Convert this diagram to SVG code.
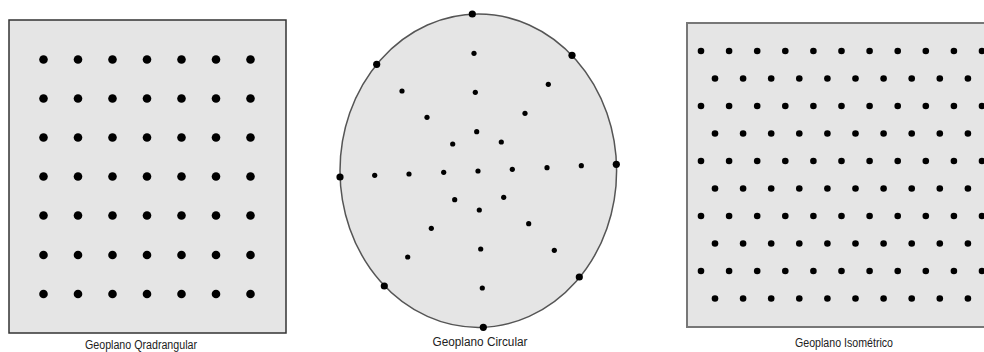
<svg xmlns="http://www.w3.org/2000/svg" width="984" height="352" viewBox="0 0 984 352">
<style>
.bg{fill:#ffffff}
.board{fill:#e5e5e5}
.lbl{font-family:"Liberation Sans",Arial,sans-serif;font-size:12px;fill:#222;text-anchor:middle}
.peg{fill:#000}
</style>
<defs>
<circle id="pg" r="4.3" class="peg"/>
<circle id="pi" r="3.3" class="peg"/>
<circle id="pc" r="2.6" class="peg"/>
<circle id="pb" r="3.6" class="peg"/>
</defs>
<rect class="bg" x="0" y="0" width="984" height="352"/>

<g id="geoplano-quadrangular">
<rect class="board" x="9" y="20" width="277" height="313" stroke="#333" stroke-width="1.5"/>
<g>
<use href="#pg" x="43.5" y="59.5"/><use href="#pg" x="78" y="59.5"/><use href="#pg" x="112.5" y="59.5"/><use href="#pg" x="147" y="59.5"/><use href="#pg" x="181.5" y="59.5"/><use href="#pg" x="216" y="59.5"/><use href="#pg" x="250.5" y="59.5"/>
<use href="#pg" x="43.5" y="98.5"/><use href="#pg" x="78" y="98.5"/><use href="#pg" x="112.5" y="98.5"/><use href="#pg" x="147" y="98.5"/><use href="#pg" x="181.5" y="98.5"/><use href="#pg" x="216" y="98.5"/><use href="#pg" x="250.5" y="98.5"/>
<use href="#pg" x="43.5" y="137.5"/><use href="#pg" x="78" y="137.5"/><use href="#pg" x="112.5" y="137.5"/><use href="#pg" x="147" y="137.5"/><use href="#pg" x="181.5" y="137.5"/><use href="#pg" x="216" y="137.5"/><use href="#pg" x="250.5" y="137.5"/>
<use href="#pg" x="43.5" y="176.5"/><use href="#pg" x="78" y="176.5"/><use href="#pg" x="112.5" y="176.5"/><use href="#pg" x="147" y="176.5"/><use href="#pg" x="181.5" y="176.5"/><use href="#pg" x="216" y="176.5"/><use href="#pg" x="250.5" y="176.5"/>
<use href="#pg" x="43.5" y="215.5"/><use href="#pg" x="78" y="215.5"/><use href="#pg" x="112.5" y="215.5"/><use href="#pg" x="147" y="215.5"/><use href="#pg" x="181.5" y="215.5"/><use href="#pg" x="216" y="215.5"/><use href="#pg" x="250.5" y="215.5"/>
<use href="#pg" x="43.5" y="255"/><use href="#pg" x="78" y="255"/><use href="#pg" x="112.5" y="255"/><use href="#pg" x="147" y="255"/><use href="#pg" x="181.5" y="255"/><use href="#pg" x="216" y="255"/><use href="#pg" x="250.5" y="255"/>
<use href="#pg" x="43.5" y="294"/><use href="#pg" x="78" y="294"/><use href="#pg" x="112.5" y="294"/><use href="#pg" x="147" y="294"/><use href="#pg" x="181.5" y="294"/><use href="#pg" x="216" y="294"/><use href="#pg" x="250.5" y="294"/>
</g>
<text class="lbl" x="141" y="349" textLength="112" lengthAdjust="spacingAndGlyphs">Geoplano Qradrangular</text>
</g>

<g id="geoplano-circular">
<ellipse class="board" cx="478.3" cy="170.7" rx="138.3" ry="156.7" stroke="#555" stroke-width="1.5"/>
<g>
<use href="#pb" x="472.3" y="14"/><use href="#pb" x="572" y="55.3"/><use href="#pb" x="376.7" y="64.3"/><use href="#pb" x="616.3" y="164.3"/>
<use href="#pb" x="340" y="177"/><use href="#pb" x="579.3" y="277"/><use href="#pb" x="384.3" y="286"/><use href="#pb" x="483.3" y="327.3"/>
</g>
<g>
<use href="#pc" x="474" y="53.3"/><use href="#pc" x="548.3" y="84.3"/><use href="#pc" x="402" y="91"/><use href="#pc" x="475.3" y="92.3"/>
<use href="#pc" x="525" y="113.3"/><use href="#pc" x="427" y="117.3"/><use href="#pc" x="476.7" y="131.7"/><use href="#pc" x="452.7" y="144"/>
<use href="#pc" x="501.3" y="142"/><use href="#pc" x="581.3" y="165.7"/><use href="#pc" x="547" y="167.7"/><use href="#pc" x="512.3" y="169.3"/>
<use href="#pc" x="478" y="171"/><use href="#pc" x="443.7" y="172.3"/><use href="#pc" x="409" y="174"/><use href="#pc" x="374.7" y="175.3"/>
<use href="#pc" x="503.7" y="197.3"/><use href="#pc" x="454.7" y="199.7"/><use href="#pc" x="479.3" y="210"/><use href="#pc" x="528.7" y="223.7"/>
<use href="#pc" x="431.3" y="228.3"/><use href="#pc" x="480.7" y="249"/><use href="#pc" x="554.3" y="250.3"/><use href="#pc" x="407.7" y="257"/>
<use href="#pc" x="482.3" y="288"/>
</g>
<text class="lbl" x="480" y="345.5" textLength="95" lengthAdjust="spacingAndGlyphs">Geoplano Circular</text>
</g>

<g id="geoplano-isometrico">
<rect class="board" x="687" y="23" width="303" height="304" stroke="#777" stroke-width="2"/>
<g id="iso-row-a">
<g transform="translate(0,51)"><use href="#pi" x="701"/><use href="#pi" x="729.1"/><use href="#pi" x="757.2"/><use href="#pi" x="785.3"/><use href="#pi" x="813.4"/><use href="#pi" x="841.5"/><use href="#pi" x="869.6"/><use href="#pi" x="897.7"/><use href="#pi" x="925.8"/><use href="#pi" x="953.9"/><use href="#pi" x="982"/></g>
<g transform="translate(0,106)"><use href="#pi" x="701"/><use href="#pi" x="729.1"/><use href="#pi" x="757.2"/><use href="#pi" x="785.3"/><use href="#pi" x="813.4"/><use href="#pi" x="841.5"/><use href="#pi" x="869.6"/><use href="#pi" x="897.7"/><use href="#pi" x="925.8"/><use href="#pi" x="953.9"/><use href="#pi" x="982"/></g>
<g transform="translate(0,161)"><use href="#pi" x="701"/><use href="#pi" x="729.1"/><use href="#pi" x="757.2"/><use href="#pi" x="785.3"/><use href="#pi" x="813.4"/><use href="#pi" x="841.5"/><use href="#pi" x="869.6"/><use href="#pi" x="897.7"/><use href="#pi" x="925.8"/><use href="#pi" x="953.9"/><use href="#pi" x="982"/></g>
<g transform="translate(0,216)"><use href="#pi" x="701"/><use href="#pi" x="729.1"/><use href="#pi" x="757.2"/><use href="#pi" x="785.3"/><use href="#pi" x="813.4"/><use href="#pi" x="841.5"/><use href="#pi" x="869.6"/><use href="#pi" x="897.7"/><use href="#pi" x="925.8"/><use href="#pi" x="953.9"/><use href="#pi" x="982"/></g>
<g transform="translate(0,271)"><use href="#pi" x="701"/><use href="#pi" x="729.1"/><use href="#pi" x="757.2"/><use href="#pi" x="785.3"/><use href="#pi" x="813.4"/><use href="#pi" x="841.5"/><use href="#pi" x="869.6"/><use href="#pi" x="897.7"/><use href="#pi" x="925.8"/><use href="#pi" x="953.9"/><use href="#pi" x="982"/></g>
</g>
<g id="iso-row-b">
<g transform="translate(0,78.5)"><use href="#pi" x="715"/><use href="#pi" x="743.1"/><use href="#pi" x="771.2"/><use href="#pi" x="799.3"/><use href="#pi" x="827.4"/><use href="#pi" x="855.5"/><use href="#pi" x="883.6"/><use href="#pi" x="911.7"/><use href="#pi" x="939.8"/><use href="#pi" x="967.9"/></g>
<g transform="translate(0,133.5)"><use href="#pi" x="715"/><use href="#pi" x="743.1"/><use href="#pi" x="771.2"/><use href="#pi" x="799.3"/><use href="#pi" x="827.4"/><use href="#pi" x="855.5"/><use href="#pi" x="883.6"/><use href="#pi" x="911.7"/><use href="#pi" x="939.8"/><use href="#pi" x="967.9"/></g>
<g transform="translate(0,188.5)"><use href="#pi" x="715"/><use href="#pi" x="743.1"/><use href="#pi" x="771.2"/><use href="#pi" x="799.3"/><use href="#pi" x="827.4"/><use href="#pi" x="855.5"/><use href="#pi" x="883.6"/><use href="#pi" x="911.7"/><use href="#pi" x="939.8"/><use href="#pi" x="967.9"/></g>
<g transform="translate(0,243.5)"><use href="#pi" x="715"/><use href="#pi" x="743.1"/><use href="#pi" x="771.2"/><use href="#pi" x="799.3"/><use href="#pi" x="827.4"/><use href="#pi" x="855.5"/><use href="#pi" x="883.6"/><use href="#pi" x="911.7"/><use href="#pi" x="939.8"/><use href="#pi" x="967.9"/></g>
<g transform="translate(0,298.5)"><use href="#pi" x="715"/><use href="#pi" x="743.1"/><use href="#pi" x="771.2"/><use href="#pi" x="799.3"/><use href="#pi" x="827.4"/><use href="#pi" x="855.5"/><use href="#pi" x="883.6"/><use href="#pi" x="911.7"/><use href="#pi" x="939.8"/><use href="#pi" x="967.9"/></g>
</g>
<text class="lbl" x="844" y="347" textLength="98" lengthAdjust="spacingAndGlyphs">Geoplano Isométrico</text>
</g>

<g id="connectors"></g>
</svg>
